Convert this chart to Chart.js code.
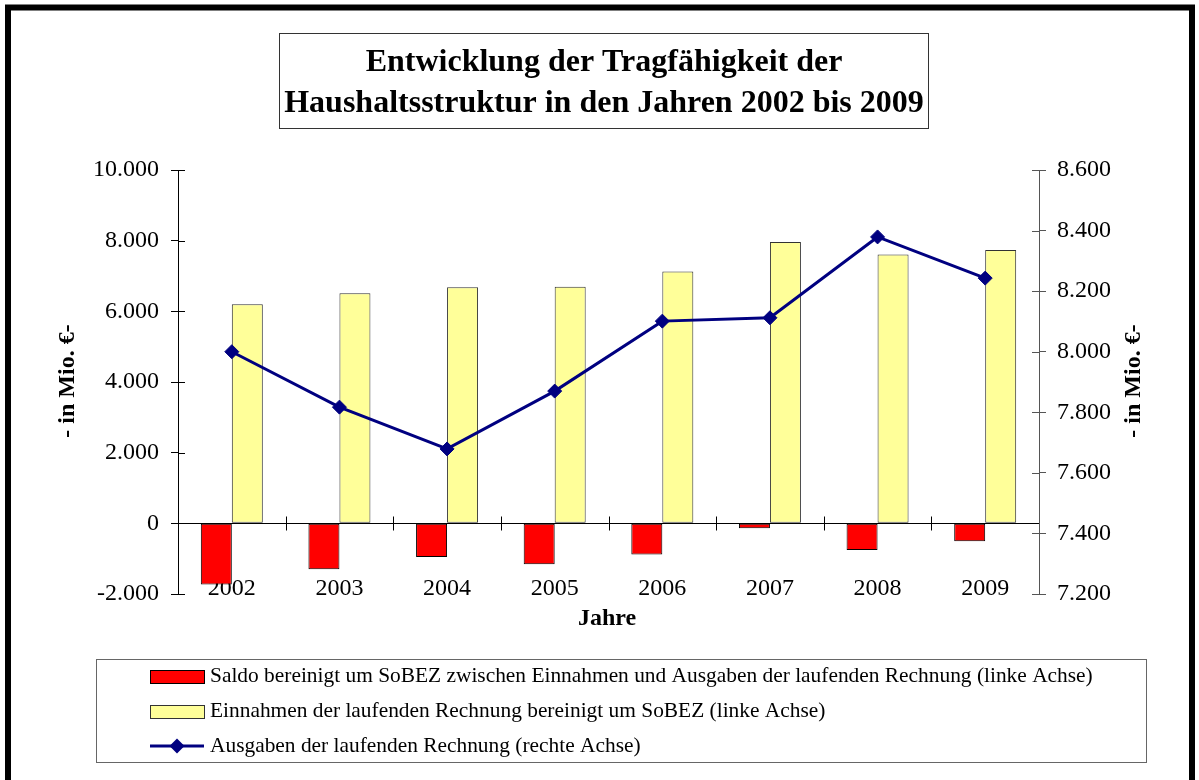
<!DOCTYPE html>
<html lang="de">
<head>
<meta charset="utf-8">
<title>Entwicklung der Tragfähigkeit der Haushaltsstruktur</title>
<script src="https://cdn.jsdelivr.net/npm/chart.js@4.4.1/dist/chart.umd.min.js"></script>
<style>
    html, body { margin: 0; padding: 0; background: #fff; }
    #chart { display: block; }
</style>
</head>
<body>
<canvas id="chart" width="1199" height="780"></canvas>
<script>
'use strict';

const years = ['2002', '2003', '2004', '2005', '2006', '2007', '2008', '2009'];
const saldo = [-1730, -1300, -955, -1160, -880, -140, -755, -510];
const einnahmen = [6200, 6515, 6685, 6695, 7130, 7960, 7610, 7735];
const ausgaben = [8000, 7817, 7679, 7870, 8101, 8112, 8379, 8243];

const leftMin = -2000, leftMax = 10000, leftStep = 2000;
const rightMin = 7200, rightMax = 8600, rightStep = 200;

const titleLines = ['Entwicklung der Tragfähigkeit der', 'Haushaltsstruktur in den Jahren 2002 bis 2009'];
const yTitle = '- in Mio. €-';
const xTitle = 'Jahre';
const seriesLabels = [
    'Saldo bereinigt um SoBEZ zwischen Einnahmen und Ausgaben der laufenden Rechnung (linke Achse)',
    'Einnahmen der laufenden Rechnung bereinigt um SoBEZ (linke Achse)',
    'Ausgaben der laufenden Rechnung (rechte Achse)'
];

const serif = '"Liberation Serif", "Times New Roman", serif';

// 10000 -> "10.000"
function deNumber(v) {
    return String(v).replace(/\B(?=(\d{3})+(?!\d))/g, '.');
}

function diamond(ctx, x, y, r) {
    ctx.beginPath();
    ctx.moveTo(x, y - r);
    ctx.lineTo(x + r, y);
    ctx.lineTo(x, y + r);
    ctx.lineTo(x - r, y);
    ctx.closePath();
    ctx.fill();
}

const decorations = {
    id: 'decorations',
    beforeDatasetsDraw(chart) {
        const {ctx, chartArea: a, scales} = chart;
        const y0 = Math.round(scales.y.getPixelForValue(0)) + 0.5;
        const n = years.length;

        ctx.save();
        ctx.strokeStyle = '#000';
        ctx.lineWidth = 1;
        ctx.beginPath();
        ctx.moveTo(a.left, y0);
        ctx.lineTo(a.right, y0);
        for (let i = 1; i < n; i++) {
            const x = Math.round(a.left + (a.right - a.left) * i / n) + 0.5;
            ctx.moveTo(x, y0 - 7);
            ctx.lineTo(x, y0 + 7);
        }
        // inner half of the axis ticks
        scales.y.ticks.forEach(t => {
            const y = Math.round(scales.y.getPixelForValue(t.value)) + 0.5;
            ctx.moveTo(a.left, y);
            ctx.lineTo(a.left + 7, y);
        });
        ctx.stroke();

        ctx.strokeStyle = '#555';
        ctx.beginPath();
        scales.y1.ticks.forEach(t => {
            const y = Math.round(scales.y1.getPixelForValue(t.value)) + 0.5;
            ctx.moveTo(a.right - 7, y);
            ctx.lineTo(a.right, y);
        });
        ctx.stroke();
        ctx.restore();
    },
    afterDraw(chart) {
        const {ctx} = chart;
        const ds = chart.data.datasets;
        ctx.save();

        // outer frame
        ctx.strokeStyle = '#000';
        ctx.lineWidth = 6;
        ctx.strokeRect(8, 7.5, 1184, 820);

        // title box
        ctx.lineWidth = 1;
        ctx.strokeStyle = '#333';
        ctx.strokeRect(279.5, 33.5, 649, 95);
        ctx.fillStyle = '#000';
        ctx.font = 'bold 32px ' + serif;
        ctx.textAlign = 'center';
        ctx.textBaseline = 'alphabetic';
        ctx.fillText(titleLines[0], 604, 71);
        ctx.fillText(titleLines[1], 604, 112);

        // axis titles
        ctx.font = 'bold 24px ' + serif;
        ctx.textBaseline = 'middle';
        ctx.fillText(xTitle, 607, 619);
        [68, 1134].forEach(x => {
            ctx.save();
            ctx.translate(x, 381);
            ctx.rotate(-Math.PI / 2);
            ctx.fillText(yTitle, 0, 0);
            ctx.restore();
        });

        // legend
        ctx.strokeStyle = '#666';
        ctx.strokeRect(96.5, 659.5, 1050, 103);
        const rows = [676.5, 711.5, 746];
        ctx.font = '21.4px ' + serif;
        ctx.textAlign = 'left';
        ctx.textBaseline = 'middle';
        ds.forEach((d, i) => {
            const y = rows[i];
            if (d.type === 'line') {
                ctx.strokeStyle = d.borderColor;
                ctx.lineWidth = d.borderWidth;
                ctx.beginPath();
                ctx.moveTo(150, y);
                ctx.lineTo(204, y);
                ctx.stroke();
                ctx.fillStyle = d.pointBackgroundColor;
                diamond(ctx, 177, y, 7.5);
            } else {
                ctx.fillStyle = d.backgroundColor;
                ctx.fillRect(150, y - 6.5, 54, 13);
                ctx.strokeStyle = d.borderColor;
                ctx.lineWidth = 1;
                ctx.strokeRect(150.5, y - 6, 54, 13);
            }
            ctx.fillStyle = '#000';
            ctx.fillText(d.label, 210, y);
        });

        ctx.restore();
    }
};

const tickFont = {family: serif, size: 24};

new Chart(document.querySelector('#chart'), {
    type: 'bar',
    data: {
        labels: years,
        datasets: [{
            label: seriesLabels[0],
            data: saldo,
            backgroundColor: '#ff0000',
            borderColor: '#000000',
            borderWidth: 1,
            borderSkipped: false,
            yAxisID: 'y',
            order: 1
        }, {
            label: seriesLabels[1],
            data: einnahmen,
            backgroundColor: '#ffff99',
            borderColor: '#333333',
            borderWidth: 1,
            borderSkipped: false,
            yAxisID: 'y',
            order: 1
        }, {
            type: 'line',
            label: seriesLabels[2],
            data: ausgaben,
            borderColor: '#000080',
            borderWidth: 3,
            pointStyle: 'rectRot',
            pointRadius: 7,
            pointBackgroundColor: '#000080',
            pointBorderColor: '#000080',
            pointBorderWidth: 1,
            tension: 0,
            yAxisID: 'y1',
            order: 0
        }]
    },
    options: {
        responsive: false,
        animation: false,
        events: [],
        categoryPercentage: 0.576,
        barPercentage: 1,
        layout: {padding: {top: 170, bottom: 186, left: 0, right: 0}},
        plugins: {
            legend: {display: false},
            title: {display: false},
            tooltip: {enabled: false}
        },
        scales: {
            x: {
                // year labels sit at the bottom edge of the plot, over the bars
                position: {y: leftMin},
                z: 1,
                grid: {display: false, drawTicks: false},
                border: {display: false},
                ticks: {color: '#000', font: tickFont, padding: -20, maxRotation: 0, autoSkip: false}
            },
            y: {
                position: 'left',
                min: leftMin,
                max: leftMax,
                ticks: {stepSize: leftStep, color: '#000', font: tickFont, padding: 12, callback: v => deNumber(v)},
                grid: {drawOnChartArea: false, drawTicks: true, tickLength: 7, color: '#000'},
                border: {display: true, color: '#000', width: 1},
                afterFit(s) { s.width = 178; }
            },
            y1: {
                position: 'right',
                min: rightMin,
                max: rightMax,
                ticks: {stepSize: rightStep, color: '#000', font: tickFont, padding: 11, callback: v => deNumber(v)},
                grid: {drawOnChartArea: false, drawTicks: true, tickLength: 7, color: '#555'},
                border: {display: true, color: '#555', width: 1},
                afterFit(s) { s.width = 160; }
            }
        }
    },
    plugins: [decorations]
});
</script>
</body>
</html>
